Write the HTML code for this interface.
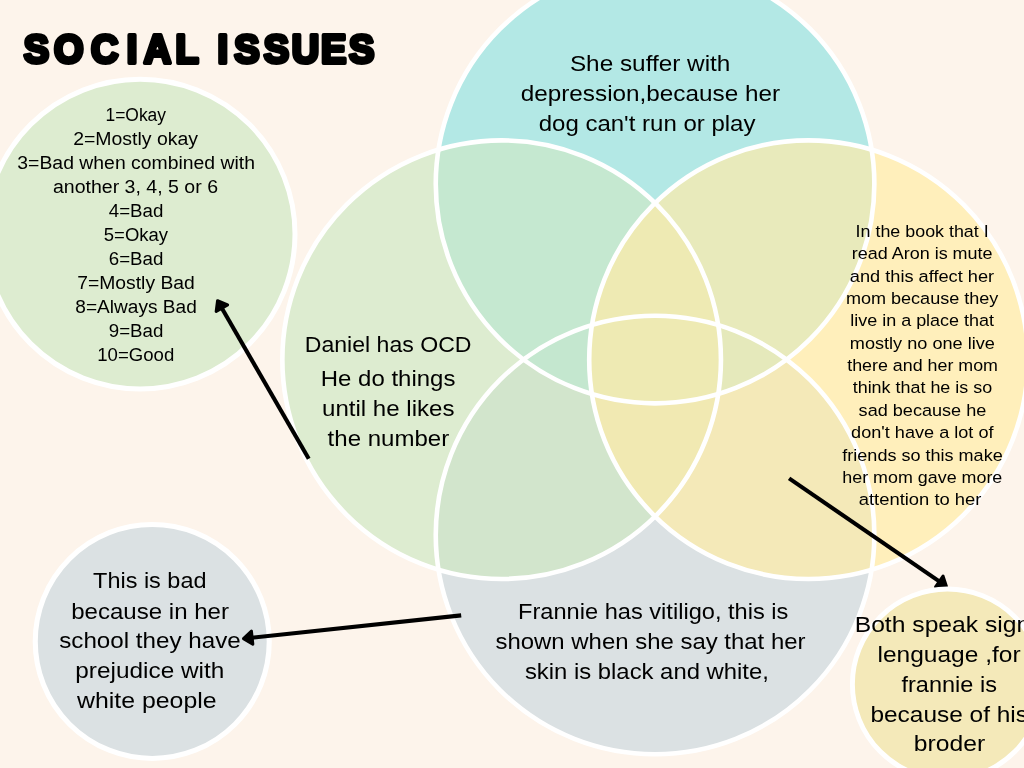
<!DOCTYPE html>
<html lang="en">
<head>
<meta charset="utf-8">
<title>Social Issues</title>
<style>
html,body{margin:0;padding:0;background:#FDF4EB;}
body{width:1024px;height:768px;overflow:hidden;font-family:"Liberation Sans", sans-serif;}
svg{display:block;will-change:transform;}
</style>
</head>
<body>
<svg width="1024" height="768" viewBox="0 0 1024 768">
<defs>
<clipPath id="cT"><circle cx="655.05" cy="184.05" r="219.3" /></clipPath>
<clipPath id="cB"><circle cx="655.05" cy="535.0" r="219.3" /></clipPath>
<clipPath id="cL"><circle cx="501.65" cy="359.7" r="219.3" /></clipPath>
<clipPath id="cR"><circle cx="808.5" cy="359.7" r="219.3" /></clipPath>
</defs>
<rect width="1024" height="768" fill="#FDF4EB"/>
<circle cx="655.05" cy="535.0" r="219.3" fill="#DBE1E3"/>
<circle cx="655.05" cy="184.05" r="219.3" fill="#B3E8E5"/>
<circle cx="501.65" cy="359.7" r="219.3" fill="#DDECD0"/>
<circle cx="808.5" cy="359.7" r="219.3" fill="#FFEFBB"/>
<g clip-path="url(#cT)"><circle cx="501.65" cy="359.7" r="219.3" fill="#C5E8D0"/><circle cx="808.5" cy="359.7" r="219.3" fill="#E8EABB"/></g>
<g clip-path="url(#cB)"><circle cx="501.65" cy="359.7" r="219.3" fill="#D2E5CC"/><circle cx="808.5" cy="359.7" r="219.3" fill="#F4E9B8"/></g>
<g clip-path="url(#cT)"><g clip-path="url(#cB)"><circle cx="501.65" cy="359.7" r="219.3" fill="#C4E7CF"/><circle cx="808.5" cy="359.7" r="219.3" fill="#E5E9BB"/></g></g>
<g clip-path="url(#cL)"><circle cx="808.5" cy="359.7" r="219.3" fill="#F1E9B2"/><g clip-path="url(#cR)"><circle cx="655.05" cy="184.05" r="219.3" fill="#EEEAB3"/></g></g>
<circle cx="655.05" cy="535.0" r="219.3" fill="none" stroke="#fff" stroke-width="4.6"/>
<circle cx="655.05" cy="184.05" r="219.3" fill="none" stroke="#fff" stroke-width="4.6"/>
<circle cx="501.65" cy="359.7" r="219.3" fill="none" stroke="#fff" stroke-width="4.6"/>
<circle cx="808.5" cy="359.7" r="219.3" fill="none" stroke="#fff" stroke-width="4.6"/>
<circle cx="140.1" cy="234.1" r="154.9" fill="#DDECD0" stroke="#fff" stroke-width="5.0"/>
<circle cx="152.25" cy="641.45" r="117.0" fill="#DBE1E3" stroke="#fff" stroke-width="5.1"/>
<line x1="308.75" y1="458.75" x2="221.90" y2="308.23" stroke="#000" stroke-width="4.1"/><polygon points="217.55,300.70 227.61,304.94 216.18,311.53" fill="#000" stroke="#000" stroke-width="3.0" stroke-linejoin="round"/>
<line x1="461.20" y1="615.40" x2="252.14" y2="637.72" stroke="#000" stroke-width="4.1"/><polygon points="243.49,638.64 251.44,631.15 252.84,644.28" fill="#000" stroke="#000" stroke-width="3.0" stroke-linejoin="round"/>
<line x1="789.10" y1="478.40" x2="939.29" y2="581.43" stroke="#000" stroke-width="4.1"/><polygon points="946.46,586.35 935.56,586.87 943.02,575.99" fill="#000" stroke="#000" stroke-width="3.0" stroke-linejoin="round"/>
<circle cx="947.6" cy="684.25" r="95.2" fill="#F4E9B9" stroke="#fff" stroke-width="4.9"/>
<g font-family='"Liberation Sans", sans-serif' fill="#000">
<text x="135.75" y="121.20" font-size="18.8" text-anchor="middle" textLength="60.6" lengthAdjust="spacingAndGlyphs">1=Okay</text>
<text x="135.60" y="145.20" font-size="18.8" text-anchor="middle" textLength="124.9" lengthAdjust="spacingAndGlyphs">2=Mostly okay</text>
<text x="136.15" y="169.20" font-size="18.8" text-anchor="middle" textLength="237.6" lengthAdjust="spacingAndGlyphs">3=Bad when combined with</text>
<text x="135.50" y="193.20" font-size="18.8" text-anchor="middle" textLength="165.1" lengthAdjust="spacingAndGlyphs">another 3, 4, 5 or 6</text>
<text x="136.05" y="217.20" font-size="18.8" text-anchor="middle" textLength="54.6" lengthAdjust="spacingAndGlyphs">4=Bad</text>
<text x="135.95" y="241.20" font-size="18.8" text-anchor="middle" textLength="64.2" lengthAdjust="spacingAndGlyphs">5=Okay</text>
<text x="136.05" y="265.20" font-size="18.8" text-anchor="middle" textLength="54.6" lengthAdjust="spacingAndGlyphs">6=Bad</text>
<text x="136.00" y="289.20" font-size="18.8" text-anchor="middle" textLength="117.5" lengthAdjust="spacingAndGlyphs">7=Mostly Bad</text>
<text x="136.05" y="313.20" font-size="18.8" text-anchor="middle" textLength="121.4" lengthAdjust="spacingAndGlyphs">8=Always Bad</text>
<text x="136.05" y="337.20" font-size="18.8" text-anchor="middle" textLength="54.6" lengthAdjust="spacingAndGlyphs">9=Bad</text>
<text x="135.75" y="361.20" font-size="18.8" text-anchor="middle" textLength="77.0" lengthAdjust="spacingAndGlyphs">10=Good</text>
<text x="388.15" y="351.80" font-size="22.6" text-anchor="middle" textLength="166.7" lengthAdjust="spacingAndGlyphs">Daniel has OCD</text>
<text x="388.10" y="385.80" font-size="22.6" text-anchor="middle" textLength="134.6" lengthAdjust="spacingAndGlyphs">He do things</text>
<text x="388.25" y="415.70" font-size="22.6" text-anchor="middle" textLength="132.5" lengthAdjust="spacingAndGlyphs">until he likes</text>
<text x="388.40" y="446.10" font-size="22.6" text-anchor="middle" textLength="121.6" lengthAdjust="spacingAndGlyphs">the number</text>
<text x="650.15" y="70.60" font-size="22.6" text-anchor="middle" textLength="160.5" lengthAdjust="spacingAndGlyphs">She suffer with</text>
<text x="650.40" y="100.90" font-size="22.6" text-anchor="middle" textLength="259.4" lengthAdjust="spacingAndGlyphs">depression,because her</text>
<text x="647.10" y="130.90" font-size="22.6" text-anchor="middle" textLength="216.8" lengthAdjust="spacingAndGlyphs">dog can't run or play</text>
<text x="922.15" y="236.80" font-size="16.7" text-anchor="middle" textLength="133.1" lengthAdjust="spacingAndGlyphs">In the book that I</text>
<text x="922.15" y="259.18" font-size="16.7" text-anchor="middle" textLength="140.9" lengthAdjust="spacingAndGlyphs">read Aron is mute</text>
<text x="921.95" y="281.56" font-size="16.7" text-anchor="middle" textLength="144.3" lengthAdjust="spacingAndGlyphs">and this affect her</text>
<text x="922.15" y="303.94" font-size="16.7" text-anchor="middle" textLength="152.5" lengthAdjust="spacingAndGlyphs">mom because they</text>
<text x="922.15" y="326.32" font-size="16.7" text-anchor="middle" textLength="143.9" lengthAdjust="spacingAndGlyphs">live in a place that</text>
<text x="922.35" y="348.70" font-size="16.7" text-anchor="middle" textLength="145.1" lengthAdjust="spacingAndGlyphs">mostly no one live</text>
<text x="922.60" y="371.08" font-size="16.7" text-anchor="middle" textLength="150.8" lengthAdjust="spacingAndGlyphs">there and her mom</text>
<text x="922.45" y="393.46" font-size="16.7" text-anchor="middle" textLength="139.5" lengthAdjust="spacingAndGlyphs">think that he is so</text>
<text x="922.45" y="415.84" font-size="16.7" text-anchor="middle" textLength="127.7" lengthAdjust="spacingAndGlyphs">sad because he</text>
<text x="922.30" y="438.22" font-size="16.7" text-anchor="middle" textLength="142.4" lengthAdjust="spacingAndGlyphs">don't have a lot of</text>
<text x="922.50" y="460.60" font-size="16.7" text-anchor="middle" textLength="160.4" lengthAdjust="spacingAndGlyphs">friends so this make</text>
<text x="922.30" y="482.98" font-size="16.7" text-anchor="middle" textLength="160.0" lengthAdjust="spacingAndGlyphs">her mom gave more</text>
<text x="920.10" y="505.36" font-size="16.7" text-anchor="middle" textLength="122.6" lengthAdjust="spacingAndGlyphs">attention to her</text>
<text x="942.50" y="631.80" font-size="22.6" text-anchor="middle" textLength="175.6" lengthAdjust="spacingAndGlyphs">Both speak sign</text>
<text x="949.05" y="661.50" font-size="22.6" text-anchor="middle" textLength="143.1" lengthAdjust="spacingAndGlyphs">lenguage ,for</text>
<text x="949.20" y="691.70" font-size="22.6" text-anchor="middle" textLength="95.4" lengthAdjust="spacingAndGlyphs">frannie is</text>
<text x="949.20" y="721.50" font-size="22.6" text-anchor="middle" textLength="157.6" lengthAdjust="spacingAndGlyphs">because of his</text>
<text x="949.45" y="751.40" font-size="22.6" text-anchor="middle" textLength="71.3" lengthAdjust="spacingAndGlyphs">broder</text>
<text x="653.20" y="619.00" font-size="22.6" text-anchor="middle" textLength="270.4" lengthAdjust="spacingAndGlyphs">Frannie has vitiligo, this is</text>
<text x="650.50" y="648.90" font-size="22.6" text-anchor="middle" textLength="310.0" lengthAdjust="spacingAndGlyphs">shown when she say that her</text>
<text x="646.90" y="678.90" font-size="22.6" text-anchor="middle" textLength="244.0" lengthAdjust="spacingAndGlyphs">skin is black and white,</text>
<text x="149.80" y="588.40" font-size="22.6" text-anchor="middle" textLength="113.4" lengthAdjust="spacingAndGlyphs">This is bad</text>
<text x="150.10" y="618.60" font-size="22.6" text-anchor="middle" textLength="157.8" lengthAdjust="spacingAndGlyphs">because in her</text>
<text x="150.00" y="648.20" font-size="22.6" text-anchor="middle" textLength="181.6" lengthAdjust="spacingAndGlyphs">school they have</text>
<text x="149.80" y="678.30" font-size="22.6" text-anchor="middle" textLength="149.0" lengthAdjust="spacingAndGlyphs">prejudice with</text>
<text x="146.80" y="708.10" font-size="22.6" text-anchor="middle" textLength="139.6" lengthAdjust="spacingAndGlyphs">white people</text>
</g>
<text transform="translate(0 63.2) scale(1 1.075)" x="23.8 53.9 91.1 126.7 143.7 175.4 200.0 217.6 234.2 263.8 291.8 321.1 349.1" y="0" font-family='"Liberation Sans", sans-serif' font-weight="bold" font-size="38.0" fill="#000" stroke="#000" stroke-width="3.8" stroke-linejoin="round">SOCIAL ISSUES</text>
</svg>
</body>
</html>
